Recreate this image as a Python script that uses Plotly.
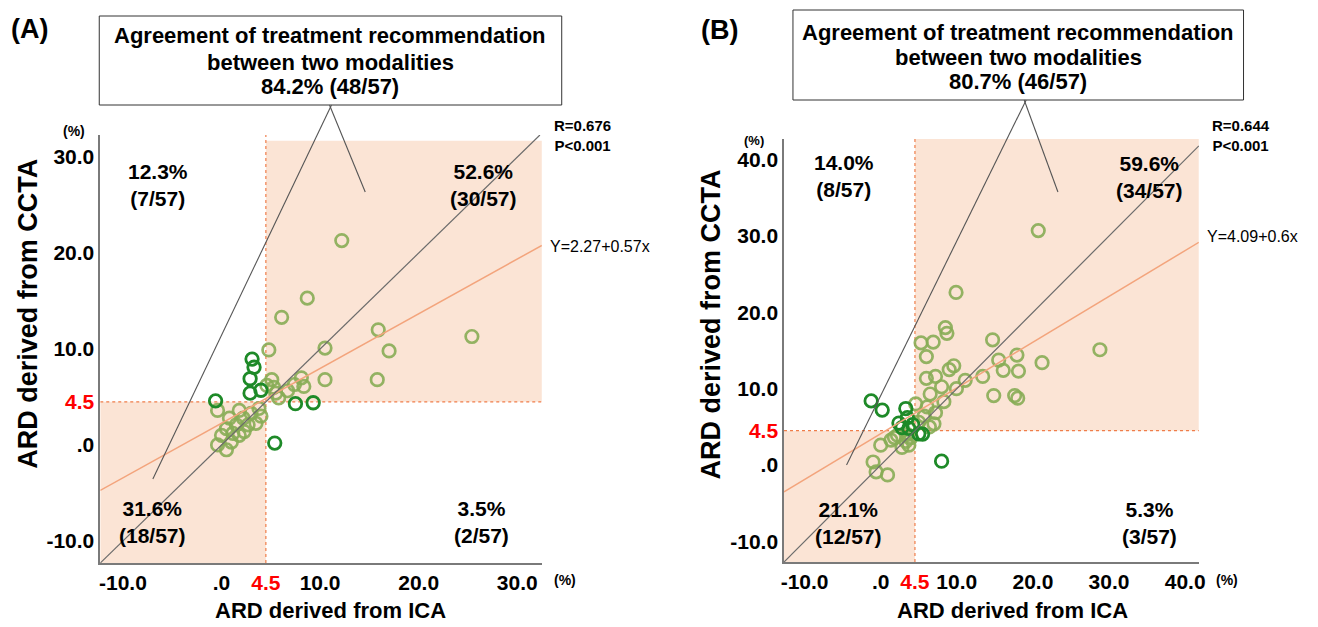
import plotly.graph_objects as go

W, H = 1318, 627
FONT = "Liberation Sans, Arial, sans-serif"

# ---------------- data ----------------
cut = 4.5
# Panel A (ICA x, CCTA y)
a_light_x = [12.2, 8.7, 6.1, 15.9, 25.4, 17.0, 10.5, 4.8, 10.5, 15.8, 5.1, 8.1, 8.35, 6.7, 5.5, 4.6, 5.8, 7.4, 5.3,
             -0.4, 1.8, 3.0, 0.8, 2.7, 1.5, 0.5, 0.0, 1.15, 2.3, 3.5, -0.4, 0.5, 1.8, 3.8, 2.2, 4.0, 1.0]
a_light_y = [21.3, 15.3, 13.3, 12.0, 11.3, 9.8, 10.1, 9.9, 6.8, 6.8, 6.8, 7.0, 6.1, 5.65, 5.4, 6.2, 4.9, 6.3, 6.0,
             3.6, 3.6, 3.3, 2.8, 2.1, 2.1, 1.7, 1.0, 1.2, 1.4, 2.25, 0.0, -0.5, 1.0, 3.8, 2.8, 3.0, 0.3]
a_dark_x = [3.1, 3.3, 2.9, 2.9, 4.0, -0.6, 7.5, 9.3, 5.4]
a_dark_y = [8.95, 8.1, 6.9, 5.4, 5.7, 4.6, 4.3, 4.4, 0.2]
a_fit = (2.27, 0.57)
a_xr = [-12.3, 32.5]
a_yr = [-12.3, 32.3]
a_shade_top = 31.7
a_ticks = [-10, 0, 4.5, 10, 20, 30]
a_quads = ["12.3%<br>(7/57)", "52.6%<br>(30/57)", "31.6%<br>(18/57)", "3.5%<br>(2/57)"]
a_box = ["Agreement of treatment recommendation", "between two modalities", "84.2% (48/57)"]
a_stats = "R=0.676<br>P&lt;0.001"
a_eq = "Y=2.27+0.57x"

# Panel B
b_light_x = [20.7, 9.9, 8.5, 8.7, 5.3, 6.9, 14.7, 6.0, 28.8, 15.5, 17.9, 21.2, 16.1, 18.1, 9.6, 9.0, 6.0, 7.2, 11.1,
             13.4, 8.0, 9.95, 6.5, 14.85, 17.6, 18.0, 8.3, 4.6, 7.2, 5.7, 7.0, 5.0, 6.4, 6.1,
             0.0, 1.35, 2.2, 3.7, 3.3, -1.0, -0.6, 0.9, 2.8, 4.0, 1.8, 3.5]
b_light_y = [30.7, 22.6, 18.0, 17.25, 16.0, 16.1, 16.4, 14.2, 15.1, 13.75, 14.4, 13.4, 12.4, 12.3, 13.0, 12.5, 11.35,
             11.6, 11.1, 11.6, 10.25, 10.0, 9.3, 9.1, 9.1, 8.75, 8.3, 8.0, 6.85, 6.4, 5.4, 5.6, 5.0, 7.6,
             2.6, 3.25, 3.9, 2.6, 3.1, 0.4, -0.9, -1.3, 2.3, 3.6, 3.6, 4.0]
b_dark_x = [-1.25, 0.2, 3.3, 3.5, 2.4, 3.7, 2.8, 4.2, 5.5, 8.0, 5.0]
b_dark_y = [8.4, 7.2, 7.4, 6.2, 5.5, 4.8, 4.9, 5.3, 4.05, 0.5, 4.1]
b_fit = (4.09, 0.6)
b_xr = [-12.7, 41.8]
b_yr = [-12.7, 42.7]
b_shade_top = 42.7
b_ticks = [-10, 0, 4.5, 10, 20, 30, 40]
b_quads = ["14.0%<br>(8/57)", "59.6%<br>(34/57)", "21.1%<br>(12/57)", "5.3%<br>(3/57)"]
b_box = ["Agreement of treatment recommendation", "between two modalities", "80.7% (46/57)"]
b_stats = "R=0.644<br>P&lt;0.001"
b_eq = "Y=4.09+0.6x"

# ---------------- styles ----------------
LIGHT = "#88ad56"
DARK = "#1e8a28"
SHADE = "#fbe4d5"
DASH = "#ef7d4a"
FITC = "#f3a47c"
IDC = "#6b6b6b"


def px(x):
    return x / W


def py(y):
    return 1 - y / H


def ticktext(vals):
    out = []
    for v in vals:
        if v == cut:
            out.append("<b><span style='color:#ff0000'>4.5</span></b>")
        elif v == 0:
            out.append("<b>.0</b>")
        else:
            out.append("<b>%.1f</b>" % v)
    return out


fig = go.Figure()

panels = [
    dict(xa="x", ya="y", lx=a_light_x, ly=a_light_y, dx=a_dark_x, dy=a_dark_y, fit=a_fit,
         xr=a_xr, yr=a_yr, top=a_shade_top),
    dict(xa="x2", ya="y2", lx=b_light_x, ly=b_light_y, dx=b_dark_x, dy=b_dark_y, fit=b_fit,
         xr=b_xr, yr=b_yr, top=b_shade_top),
]

shapes = []
for p in panels:
    xr, yr = p["xr"], p["yr"]
    # shaded agreement quadrants
    shapes.append(dict(type="rect", xref=p["xa"], yref=p["ya"], x0=xr[0], x1=cut, y0=yr[0], y1=cut,
                       fillcolor=SHADE, line=dict(width=0), layer="below"))
    shapes.append(dict(type="rect", xref=p["xa"], yref=p["ya"], x0=cut, x1=xr[1], y0=cut, y1=p["top"],
                       fillcolor=SHADE, line=dict(width=0), layer="below"))
    # cut-off dashed lines
    shapes.append(dict(type="line", xref=p["xa"], yref=p["ya"], x0=cut, x1=cut, y0=yr[0], y1=yr[1],
                       line=dict(color=DASH, width=1.2, dash="3px,3px"), layer="below"))
    shapes.append(dict(type="line", xref=p["xa"], yref=p["ya"], x0=xr[0], x1=xr[1], y0=cut, y1=cut,
                       line=dict(color=DASH, width=1.2, dash="3px,3px"), layer="below"))

    fig.add_trace(go.Scatter(x=p["lx"], y=p["ly"], mode="markers", xaxis=p["xa"], yaxis=p["ya"],
                             marker=dict(size=12.5, color="rgba(0,0,0,0)", opacity=0.9,
                                         line=dict(color=LIGHT, width=2.7)), hoverinfo="skip"))
    fig.add_trace(go.Scatter(x=p["dx"], y=p["dy"], mode="markers", xaxis=p["xa"], yaxis=p["ya"],
                             marker=dict(size=12.5, color="rgba(0,0,0,0)",
                                         line=dict(color=DARK, width=2.8)), hoverinfo="skip"))
    # regression line
    a0, b0 = p["fit"]
    fig.add_trace(go.Scatter(x=[xr[0], xr[1]], y=[a0 + b0 * xr[0], a0 + b0 * xr[1]], mode="lines",
                             xaxis=p["xa"], yaxis=p["ya"], line=dict(color=FITC, width=1.5), hoverinfo="skip"))
    # identity line
    e = min(xr[1], yr[1])
    fig.add_trace(go.Scatter(x=[xr[0], e], y=[yr[0], e], mode="lines", xaxis=p["xa"], yaxis=p["ya"],
                             line=dict(color=IDC, width=1.2), hoverinfo="skip"))

# top boxes and callout lines (decoration, paper coordinates)
for (x0, y0, x1, y1) in [(97, 16, 563, 105), (796, 10, 1250, 100)]:
    shapes.append(dict(type="rect", xref="paper", yref="paper", x0=px(x0), x1=px(x1), y0=py(y0), y1=py(y1),
                       line=dict(color="#333333", width=1), fillcolor="white"))
for (xa, ya, xb, yb) in [(331, 105, 151, 479), (329, 105, 365, 192), (1031, 100, 850, 465), (1029, 100, 1063, 192)]:
    shapes.append(dict(type="line", xref="paper", yref="paper", x0=px(xa), y0=py(ya), x1=px(xb), y1=py(yb),
                       line=dict(color="#555555", width=1.1)))

ann = []


def A(text, x, y, size, bold=True, xanchor="center", color="black", angle=0):
    ann.append(dict(text=("<b>%s</b>" % text) if bold else text, x=px(x), y=py(y), xref="paper", yref="paper",
                    showarrow=False, xanchor=xanchor, yanchor="middle", textangle=angle,
                    font=dict(family=FONT, size=size, color=color)))


A("(A)", 27, 29, 27)
A("(B)", 722, 30, 27)
for t, yy in zip(a_box, [36, 62, 87]):
    A(t, 330, yy, 22)
for t, yy in zip(b_box, [32, 57, 81]):
    A(t, 1023, yy, 22)

# quadrant labels
for t, (x, y) in zip(a_quads, [(156, 185), (484, 185), (151, 522), (482, 522)]):
    A(t, x, y, 21)
for t, (x, y) in zip(b_quads, [(847, 176), (1155, 177), (852, 523), (1155, 523)]):
    A(t, x, y, 21)

A(a_stats, 553, 136, 15, xanchor="left")
A(b_stats, 1216, 136, 15, xanchor="left")
A(a_eq, 549, 246, 16, bold=False, xanchor="left")
A(b_eq, 1211, 237, 16, bold=False, xanchor="left")

A("(%)", 72, 131, 14)
A("(%)", 757, 140, 13)
A("(%)", 566, 580, 14)
A("(%)", 1233, 580, 14)

A("ARD derived from ICA", 330, 610, 22)
A("ARD derived from ICA", 1017, 610, 22)
A("ARD derived from CCTA", 25, 314, 27, angle=-90)
A("ARD derived from CCTA", 713, 325, 27, angle=-90)

axis_common = dict(showgrid=False, zeroline=False, ticks="", showline=True, linecolor="#7a7a7a", linewidth=1.5,
                   tickfont=dict(family=FONT, size=21, color="black"), fixedrange=True)

fig.update_layout(
    width=W, height=H, margin=dict(l=0, r=0, t=0, b=0),
    paper_bgcolor="white", plot_bgcolor="rgba(0,0,0,0)", showlegend=False,
    xaxis=dict(domain=[px(98), px(543)], range=a_xr, anchor="y", tickvals=a_ticks, ticktext=ticktext(a_ticks),
               **axis_common),
    yaxis=dict(domain=[py(563), py(135)], range=a_yr, anchor="x", tickvals=a_ticks, ticktext=ticktext(a_ticks),
               **axis_common),
    xaxis2=dict(domain=[px(787), px(1205)], range=b_xr, anchor="y2", tickvals=b_ticks, ticktext=ticktext(b_ticks),
                **axis_common),
    yaxis2=dict(domain=[py(562), py(139)], range=b_yr, anchor="x2", tickvals=b_ticks, ticktext=ticktext(b_ticks),
                **axis_common),
    shapes=shapes, annotations=ann,
)

fig.write_html("out.html")
